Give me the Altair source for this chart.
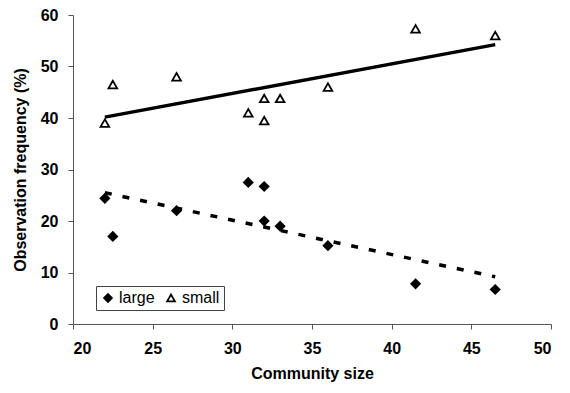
import altair as alt
import pandas as pd

community_size = [22, 22.5, 26.5, 31, 32, 32, 33, 36, 41.5, 46.5]
large_values = [24.4, 17.0, 22.0, 27.5, 26.7, 20.0, 19.0, 15.2, 7.8, 6.7]
small_values = [39.0, 46.5, 48.0, 41.0, 43.8, 39.5, 43.8, 46.0, 57.3, 56.0]
series_names = ["large", "small"]

rows = []
for x, y in zip(community_size, large_values):
    rows.append({"size": x, "freq": y, "group": "large"})
for x, y in zip(community_size, small_values):
    rows.append({"size": x, "freq": y, "group": "small"})
df = pd.DataFrame(rows)

FONT = "Liberation Sans"

xenc = alt.X("size:Q", title="Community size",
             scale=alt.Scale(domain=[20, 50], nice=False, zero=False),
             axis=alt.Axis(values=[20, 25, 30, 35, 40, 45, 50], grid=False))
yenc = alt.Y("freq:Q", title="Observation frequency (%)",
             scale=alt.Scale(domain=[0, 60], nice=False),
             axis=alt.Axis(values=[0, 10, 20, 30, 40, 50, 60], grid=False))

legend = alt.Legend(title=None, orient="none", legendX=23, legendY=271,
                    direction="horizontal", strokeColor="#444", padding=4,
                    labelFont=FONT, labelFontSize=16, labelColor="black",
                    symbolStrokeColor="black", symbolStrokeWidth=1.8,
                    symbolSize=60, columnPadding=8, labelOffset=3)

points = alt.Chart(df).mark_point(size=75, strokeWidth=1.8, opacity=1, filled=True,
                                  fillOpacity=1, strokeOpacity=1).encode(
    x=xenc, y=yenc,
    shape=alt.Shape("group:N", scale=alt.Scale(domain=series_names, range=["diamond", "triangle-up"]),
                    legend=legend),
    fill=alt.Fill("group:N", scale=alt.Scale(domain=series_names, range=["black", "white"]),
                  legend=legend),
    stroke=alt.Stroke("group:N", scale=alt.Scale(domain=series_names, range=["black", "black"]),
                      legend=legend),
)

small_line = alt.Chart(df).transform_filter(
    alt.datum.group == "small"
).transform_regression("size", "freq").mark_line(
    color="black", strokeWidth=3.5
).encode(x=xenc, y=yenc)

large_line = alt.Chart(df).transform_filter(
    alt.datum.group == "large"
).transform_regression("size", "freq").mark_line(
    color="black", strokeWidth=3.5, strokeDash=[7, 11]
).encode(x=xenc, y=yenc)

chart = alt.layer(small_line, large_line, points).properties(
    width=478, height=309,
    autosize=alt.AutoSizeParams(type="none"),
    padding={"left": 73, "top": 15, "right": 19, "bottom": 69},
).configure_view(stroke=None).configure_axis(
    domainColor="#555", tickColor="#555", tickSize=5,
    labelFont=FONT, labelFontSize=16, labelFontWeight="bold", labelColor="black",
    titleFont=FONT, titleFontSize=16, titleFontWeight="bold", titleColor="black",
).configure_axisX(labelPadding=11, titlePadding=9).configure_axisY(labelPadding=10, titlePadding=12)

chart.save("out.html", embed_options={"renderer": "svg", "actions": False})
